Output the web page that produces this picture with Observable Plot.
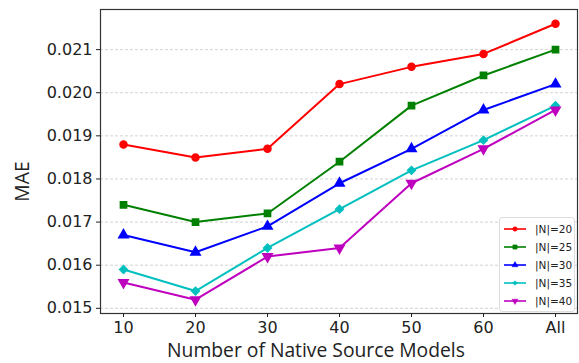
<!DOCTYPE html>
<html><head><meta charset="utf-8">
<script src="https://cdn.jsdelivr.net/npm/d3@7"></script>
<script src="https://cdn.jsdelivr.net/npm/@observablehq/plot@0.6"></script>
<style>
body{margin:0;background:#fff;font-family:"DejaVu Sans",sans-serif;}
#wrap{position:relative;width:579px;height:363px;}
#legend{position:absolute;left:499px;top:217px;width:76px;height:95px;border:1px solid #ddd;border-radius:3px;background:rgba(255,255,255,0.85);box-sizing:border-box;font-size:10.5px;color:#222;}
.li{position:absolute;left:0;height:18px;display:flex;align-items:center;}
.li svg{margin-left:3px;margin-right:8px;}
</style></head><body>
<div id="wrap"><div id="legend"></div></div>
<script>
const xLabels = ["10","20","30","40","50","60","All"];
const seriesNames = ["|N|=20","|N|=25","|N|=30","|N|=35","|N|=40"];
const n20 = [0.0188, 0.0185, 0.0187, 0.0202, 0.0206, 0.0209, 0.0216];
const n25 = [0.0174, 0.0170, 0.0172, 0.0184, 0.0197, 0.0204, 0.0210];
const n30 = [0.0167, 0.0163, 0.0169, 0.0179, 0.0187, 0.0196, 0.0202];
const n35 = [0.0159, 0.0154, 0.0164, 0.0173, 0.0182, 0.0189, 0.0197];
const n40 = [0.0156, 0.0152, 0.0162, 0.0164, 0.0179, 0.0187, 0.0196];
const yTicks = [0.015, 0.016, 0.017, 0.018, 0.019, 0.020, 0.021];
const xTitle = "Number of Native Source Models";
const yTitle = "MAE";

const colors = ["#ff0000", "#008000", "#0000ff", "#00bfbf", "#bf00bf"];
const triDown = {draw(context, size) {
  const y = -Math.sqrt(size / (Math.sqrt(3) * 3));
  context.moveTo(0, -y * 2);
  context.lineTo(-Math.sqrt(3) * y, y);
  context.lineTo(Math.sqrt(3) * y, y);
  context.closePath();
}};
const symbols = ["circle", "square", "triangle", "diamond2", triDown];

const allSeries = [n20, n25, n30, n35, n40];
const data = [];
allSeries.forEach((vals, i) => vals.forEach((v, j) => data.push({x: xLabels[j], y: v, s: seriesNames[i]})));

const chart = Plot.plot({
  width: 579, height: 363,
  marginLeft: 100, marginRight: 2, marginTop: 9, marginBottom: 50,
  style: {fontFamily: "DejaVu Sans, sans-serif", fontSize: "16px", color: "#222", background: "white"},
  x: {type: "point", domain: xLabels, padding: 0.3, label: null},
  y: {domain: [0.01488, 0.02193], label: null},
  color: {domain: seriesNames, range: colors},
  symbol: {domain: seriesNames, range: symbols},
  marks: [
    Plot.ruleY(yTicks, {stroke: "#c8c8c8", strokeDasharray: "3,2", strokeWidth: 0.8}),
    Plot.frame({stroke: "#333", strokeWidth: 1.2}),
    Plot.axisY({ticks: yTicks, tickFormat: d3.format(".3f"), tickSize: 4, tickPadding: 4, fontSize: 16, label: null}),
    Plot.axisX({tickSize: 4, tickPadding: 4, fontSize: 16, label: null}),
    Plot.text([xTitle], {text: d => d, frameAnchor: "bottom", textAnchor: "middle", lineAnchor: "middle", dy: 37, dx: -23, fontSize: 19.3, fontFamily: "Open Sans", fill: "#222"}),
    Plot.text([yTitle], {text: d => d, frameAnchor: "left", textAnchor: "middle", lineAnchor: "middle", rotate: -90, dx: -78, dy: 20, fontSize: 19.3, fontFamily: "Open Sans", fill: "#222"}),
    Plot.line(data, {x: "x", y: "y", z: "s", stroke: "s", strokeWidth: 2}),
    Plot.dot(data, {x: "x", y: "y", symbol: "s", fill: "s", stroke: "s", r: 3.5})
  ]
});
document.getElementById("wrap").prepend(chart);

// legend
const leg = document.getElementById("legend");
const symSizes = [16, 18, 16, 14, 16];
seriesNames.forEach((name, i) => {
  const row = document.createElement("div");
  row.className = "li";
  row.style.top = (2 + i * 18.1) + "px";
  const s = d3.create("svg").attr("width", 24).attr("height", 10);
  s.append("line").attr("x1", 1).attr("x2", 23).attr("y1", 5).attr("y2", 5).attr("stroke", colors[i]).attr("stroke-width", 1.6);
  const sym = typeof symbols[i] === "string" ? {circle: d3.symbolCircle, square: d3.symbolSquare, triangle: d3.symbolTriangle, diamond2: d3.symbolDiamond2}[symbols[i]] : symbols[i];
  s.append("path").attr("transform", "translate(12,5)").attr("d", d3.symbol(sym, symSizes[i])()).attr("fill", colors[i]).attr("stroke", colors[i]).attr("stroke-width", 0.5);
  row.appendChild(s.node());
  const t = document.createElement("span");
  t.textContent = name;
  row.appendChild(t);
  leg.appendChild(row);
});
</script>
</body></html>
